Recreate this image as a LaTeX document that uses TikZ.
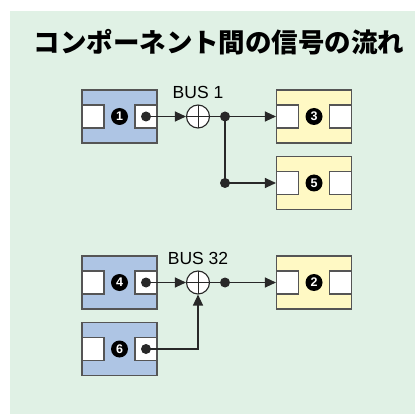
\documentclass[tikz,border=0pt]{standalone}
\usepackage{fontspec}
\setmainfont{Liberation Sans}
\newfontfamily\jpfont{Noto Sans CJK JP}
\usetikzlibrary{arrows.meta,positioning}

\definecolor{bggreen}{RGB}{224,241,229}
\definecolor{srcblue}{RGB}{174,197,228}
\definecolor{dstyellow}{RGB}{255,249,196}
\definecolor{linegray}{RGB}{85,85,85}
\definecolor{wiregray}{RGB}{40,40,40}

\begin{document}
\begin{tikzpicture}[x=1pt,y=-1pt,
  block/.style={draw=linegray,line width=1.1pt,minimum width=75pt,minimum height=53pt,inner sep=0pt},
  port/.style={draw=linegray,line width=1.1pt,fill=white,minimum width=22pt,minimum height=23pt,inner sep=0pt},
  num/.style={circle,fill=black,text=white,inner sep=0pt,minimum size=17pt,font=\bfseries\fontsize{12.5}{12.5}\selectfont},
  sum/.style={circle,draw=wiregray,fill=white,line width=1.1pt,minimum size=23pt,inner sep=0pt,
    path picture={\draw[wiregray,line width=1pt]
      (path picture bounding box.north) -- (path picture bounding box.south)
      (path picture bounding box.west) -- (path picture bounding box.east);}},
  dot/.style={circle,fill=wiregray,inner sep=0pt,minimum size=10pt},
  sig/.style={draw=wiregray,line width=1.2pt},
  ->/.style={sig,-{Triangle[length=11pt,width=10pt]}},
  buslabel/.style={inner sep=0pt,font=\fontsize{17.5}{17.5}\selectfont}]
\useasboundingbox (0,0) rectangle (415,414);
\fill[bggreen] (10,11) rectangle (415,414);
\node[font=\jpfont\bfseries\fontsize{26.5}{26.5}\selectfont] (title) at (219,42.5) {コンポーネント間の信号の流れ};

% components
\foreach \n/\x/\y/\col in {1/119.5/116.5/srcblue, 4/119.5/282.5/srcblue, 6/119.5/349/srcblue,
                          3/314/116.5/dstyellow, 5/314/183/dstyellow, 2/314/282.5/dstyellow} {
  \node[block,fill=\col] (b\n) at (\x,\y) {};
  \node[port,anchor=west] (in\n) at (b\n.west) {};
  \node[port,anchor=east] (out\n) at (b\n.east) {};
  \node[num] (n\n) at (b\n) {\n};
}
\foreach \n in {1,4,6} { \node[dot] (d\n) at (out\n) {}; }

% BUS 1
\node[sum] (s1) at (198,116.5) {};
\node[buslabel,above=6pt of s1] (l1) {BUS 1};
\node[dot] (j1) at (225,116.5) {};
\node[dot] (j2) at (225,183) {};
\draw[->] (d1.center) -- (s1);
\draw[sig] (s1) -- (j1.center) -- (j2.center);
\draw[->] (j1.center) -- (in3.west);
\draw[->] (j2.center) -- (in5.west);

% BUS 32
\node[sum] (s2) at (198,282.5) {};
\node[buslabel,above=6pt of s2] (l2) {BUS 32};
\node[dot] (j3) at (225,282.5) {};
\draw[->] (d4.center) -- (s2);
\draw[sig] (s2) -- (j3.center);
\draw[->] (j3.center) -- (in2.west);
\draw[->] (d6.center) -| (s2);
\end{tikzpicture}
\end{document}
